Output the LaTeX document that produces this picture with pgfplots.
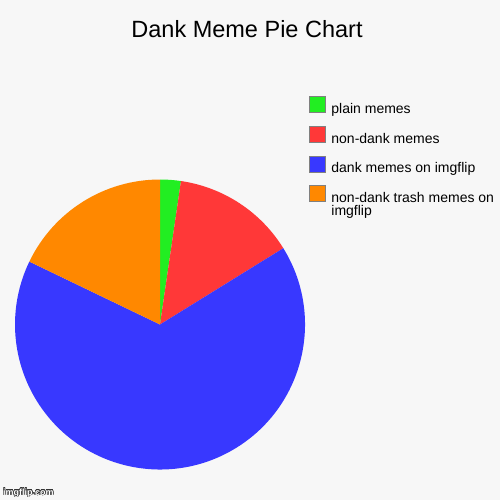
\documentclass[border=0pt]{standalone}
\usepackage{pgfplots}
\pgfplotsset{compat=1.18}
\usepackage{fontspec}
\setmainfont{Liberation Sans}
\usepackage{contour}
\definecolor{bg}{HTML}{F7F7F7}
\definecolor{sgreen}{HTML}{22EE22}
\definecolor{sred}{HTML}{FF3838}
\definecolor{sblue}{HTML}{3838FF}
\definecolor{sorange}{HTML}{FF8800}

% shares in percent, clockwise from 12 o'clock
\def\pA{2.31}  % plain memes
\def\pB{13.87} % non-dank memes
\def\pC{65.96} % dank memes on imgflip
\def\pD{17.86} % non-dank trash memes on imgflip

\begin{document}
\begin{tikzpicture}[x=1pt,y=1pt]
\fill[bg] (0,0) rectangle (500,500);
\begin{axis}[
  at={(0,0)}, anchor=south west,
  width=500pt, height=500pt, scale only axis,
  xmin=0, xmax=500, ymin=0, ymax=500, y dir=reverse,
  hide axis, clip=false,
  legend style={at={(axis cs:309,96)}, anchor=north west,
    draw=none, fill=none, inner sep=0pt, outer sep=0pt,
    font=\fontsize{14}{16}\selectfont,
    nodes={inner sep=0pt, text height=11pt, text depth=3pt},
    row sep=9.6pt, column sep=6pt},
  legend cell align=left,
  legend image code/.code={\draw[#1, draw=gray] (0pt,-3pt) rectangle (16pt,13pt);},
]
\fill[sgreen] (axis cs:160,324.5) -- ++(90:145pt)
  arc[start angle=90, delta angle={-3.6*\pA}, radius=145pt] -- cycle;
\fill[sred] (axis cs:160,324.5) -- ++({90-3.6*\pA}:145pt)
  arc[start angle={90-3.6*\pA}, delta angle={-3.6*\pB}, radius=145pt] -- cycle;
\fill[sblue] (axis cs:160,324.5) -- ++({90-3.6*(\pA+\pB)}:145pt)
  arc[start angle={90-3.6*(\pA+\pB)}, delta angle={-3.6*\pC}, radius=145pt] -- cycle;
\fill[sorange] (axis cs:160,324.5) -- ++({90-3.6*(\pA+\pB+\pC)}:145pt)
  arc[start angle={90-3.6*(\pA+\pB+\pC)}, delta angle={-3.6*\pD}, radius=145pt] -- cycle;

\addlegendimage{fill=sgreen}
\addlegendentry{plain memes}
\addlegendimage{fill=sred}
\addlegendentry{non-dank memes}
\addlegendimage{fill=sblue}
\addlegendentry{dank memes on imgflip}
\addlegendimage{fill=sorange}
\addlegendentry{\begin{tabular}[t]{@{}l@{}}non-dank trash memes on\\[-3.5pt]imgflip\end{tabular}}

\node[anchor=base, font=\fontsize{23.5}{27}\selectfont] at (axis cs:247,38) {Dank Meme Pie Chart};
\node[anchor=base west, inner sep=0pt, font=\bfseries\fontsize{9}{11}\selectfont]
  at (axis cs:3,495) {\contour{black!80}{\textcolor{white}{imgflip.com}}};
\end{axis}
\end{tikzpicture}
\end{document}
